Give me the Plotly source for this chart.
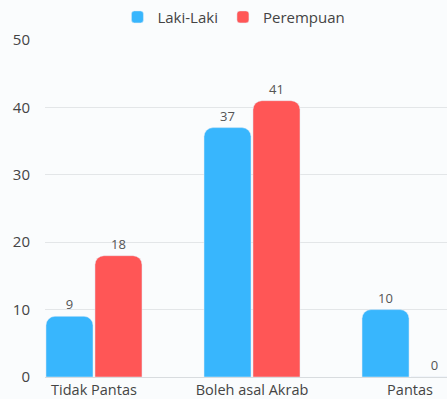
import plotly.graph_objects as go

categories = ["Tidak Pantas", "Boleh asal Akrab", "Pantas"]
laki = [9, 37, 10]
perempuan = [18, 41, 0]
series_names = ["Laki-Laki", "Perempuan"]
y_ticks = [0, 10, 20, 30, 40, 50]

font = "Open Sans, Noto Sans, sans-serif"
fig = go.Figure()
fig.add_trace(go.Bar(x=categories, y=laki, name=series_names[0], marker_color="#38b6fd",
                     text=laki, textposition="outside", cliponaxis=False,
                     textfont=dict(size=13, color="#555")))
fig.add_trace(go.Bar(x=categories, y=perempuan, name=series_names[1], marker_color="#ff5656",
                     text=perempuan, textposition="outside", cliponaxis=False,
                     textfont=dict(size=13, color="#555")))
fig.update_layout(
    width=447, height=399,
    margin=dict(l=45, r=0, t=40, b=22, autoexpand=False),
    paper_bgcolor="#fafcfd", plot_bgcolor="#fafcfd",
    font=dict(family=font, size=14, color="#444"),
    barmode="group", bargap=0.38, bargroupgap=0.04, barcornerradius=9,
    legend=dict(orientation="h", x=0.47, xanchor="center", y=0.957, yanchor="middle",
                yref="container", font=dict(size=15, color="#444"), itemwidth=30),
    xaxis=dict(range=[-0.31, 2.234], showgrid=False, showline=True, linecolor="#d8dcdf",
               ticks="", ticklabelstandoff=0, tickfont=dict(size=14.5, color="#444")),
    yaxis=dict(range=[0, 50], tickvals=y_ticks, gridcolor="#e3e6e8", zeroline=False,
               ticks="", ticklabelstandoff=14, tickfont=dict(size=15, color="#444")),
)
fig.write_html("out.html")
